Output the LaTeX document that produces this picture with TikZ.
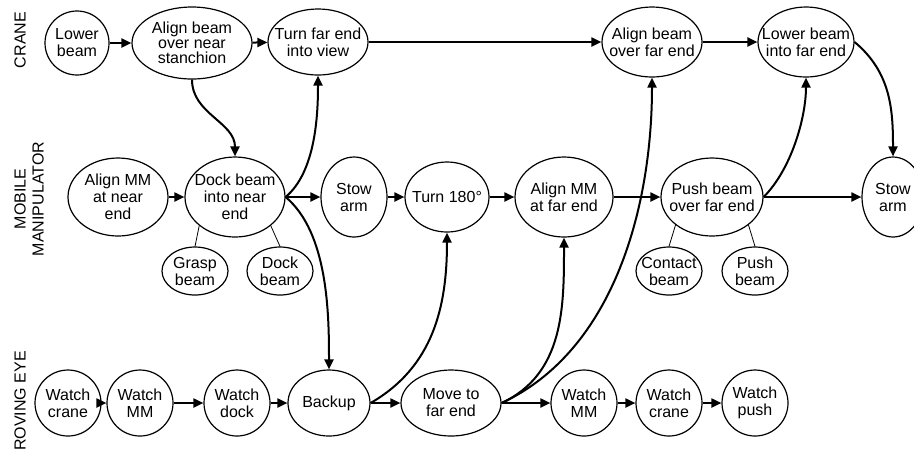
\documentclass[tikz,border=0pt]{standalone}
\usepackage{fontspec}
\setmainfont{Liberation Sans}
\usetikzlibrary{shapes.geometric,arrows.meta}
\begin{document}
\begin{tikzpicture}[x=0.5pt,y=0.5pt,
  task/.style={ellipse,draw,line width=0.6pt,inner sep=-10pt,align=center,
    font=\fontsize{8}{8.5}\selectfont},
  sz/.style 2 args={minimum width=#1pt,minimum height=#2pt},
  flow/.style={line width=1pt,-{Triangle[length=5pt,width=4.5pt]}},
  part/.style={line width=0.4pt},
  lane/.style={rotate=90,align=center,font=\fontsize{8}{9}\selectfont}]
\useasboundingbox (0,0) rectangle (914,-452);
\clip (0,0) rectangle (914,-452);

% lane titles
\node[lane] (crane) at (20,-40) {CRANE};
\node[lane] (mm) at (29,-199) {MOBILE\\MANIPULATOR};
\node[lane] (eye) at (20,-401) {ROVING EYE};

% crane tasks
\node[task,sz={32}{32}] (lb) at (77,-43) {Lower\\beam};
\node[task,sz={60}{36},font=\fontsize{8}{7.5}\selectfont] (anear) at (192,-43) {Align beam\\over near\\stanchion};
\node[task,sz={50}{33}] (turn) at (318,-42) {Turn far end\\into view};
\node[task,sz={50}{35}] (afar) at (652,-42) {Align beam\\over far end};
\node[task,sz={48}{35}] (lfar) at (806,-42) {Lower beam\\into far end};

% mobile manipulator tasks
\node[task,sz={50}{39}] (amnear) at (118,-197) {Align MM\\at near\\end};
\node[task,sz={50}{40}] (dock) at (235,-197) {Dock beam\\into near\\end};
\node[task,sz={33}{40}] (stow1) at (354,-197) {Stow\\arm};
\node[task,sz={42}{35}] (turn180) at (447,-197) {Turn 180°};
\node[task,sz={49}{40}] (amfar) at (564,-197) {Align MM\\at far end};
\node[task,sz={51}{39}] (push) at (712,-197) {Push beam\\over far end};
\node[task,sz={31}{40}] (stow2) at (893,-197) {Stow\\arm};

% subtasks
\node[task,sz={33}{24}] (grasp) at (195,-271) {Grasp\\beam};
\node[task,sz={33}{24}] (dockb) at (280,-271) {Dock\\beam};
\node[task,sz={33}{24}] (contact) at (669,-271) {Contact\\beam};
\node[task,sz={33}{24}] (pushb) at (755,-271) {Push\\beam};

% roving eye tasks
\node[task,sz={33}{33}] (wc) at (68,-403) {Watch\\crane};
\node[task,sz={33}{33}] (wmm) at (140,-403) {Watch\\MM};
\node[task,sz={33}{33}] (wd) at (237,-403) {Watch\\dock};
\node[task,sz={41}{33}] (backup) at (329,-403) {Backup};
\node[task,sz={50}{33}] (move) at (451,-403) {Move to\\far end};
\node[task,sz={33}{33}] (wmm2) at (584,-403) {Watch\\MM};
\node[task,sz={33}{33}] (wc2) at (669,-403) {Watch\\crane};
\node[task,sz={33}{33}] (wp) at (755,-403) {Watch\\push};

% sequence within each lane
\draw[flow] (lb) -- (anear);
\draw[flow] (anear) -- (turn);
\draw[flow] (turn) -- (afar);
\draw[flow] (afar) -- (lfar);
\draw[flow] (amnear) -- (dock);
\draw[flow] (dock) -- (stow1);
\draw[flow] (stow1) -- (turn180);
\draw[flow] (turn180) -- (amfar);
\draw[flow] (amfar) -- (push);
\draw[flow] (push) -- (stow2);
\draw[flow] (wc) -- (wmm);
\draw[flow] (wmm) -- (wd);
\draw[flow] (wd) -- (backup);
\draw[flow] (backup) -- (move);
\draw[flow] (move) -- (wmm2);
\draw[flow] (wmm2) -- (wc2);
\draw[flow] (wc2) -- (wp);

% dependencies between lanes
\draw[flow] (anear.south) to[out=-90,in=90] (dock.north);
\draw[flow] (dock.east) to[out=40,in=-90,looseness=0.8] (turn.south);
\draw[flow] (dock.east) to[out=-40,in=90,looseness=0.8] (backup.north);
\draw[flow] (backup.east) to[out=30,in=-90] (turn180.south);
\draw[flow] (move.east) to[out=25,in=-90] (amfar.south);
\draw[flow] (move.east) to[out=25,in=-90,looseness=0.9] (afar.south);
\draw[flow] (push.east) to[out=45,in=-90,looseness=0.8] (lfar.south);
\draw[flow] (lfar.east) to[out=-40,in=90] (stow2.north);

% decomposition into subtasks
\draw[part] (dock.south west) -- (grasp.north);
\draw[part] (dock.south east) -- (dockb.north);
\draw[part] (push.south west) -- (contact.north);
\draw[part] (push.south east) -- (pushb.north);
\end{tikzpicture}
\end{document}
